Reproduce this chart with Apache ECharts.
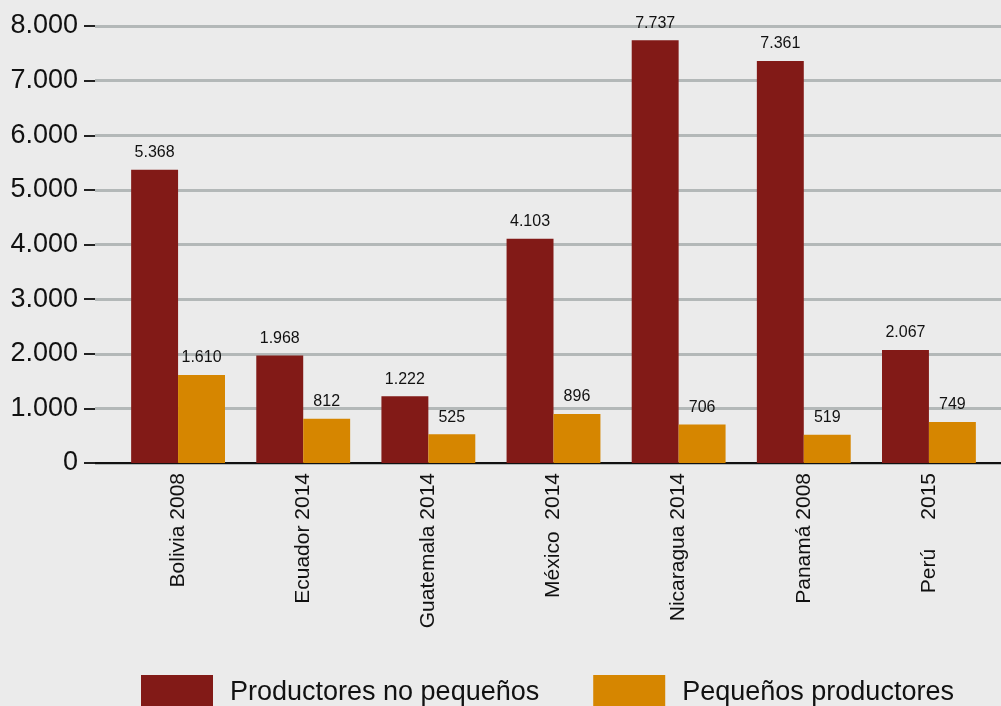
<!DOCTYPE html>
<html>
<head>
<meta charset="utf-8">
<script src="https://cdn.jsdelivr.net/npm/echarts@6/dist/echarts.min.js"></script>
<style>
  html, body { margin: 0; padding: 0; background: #ebebeb; }
  #chart { width: 1001px; height: 706px; }
</style>
</head>
<body>
<div id="chart"></div>
<script>
const categories = ['Bolivia 2008', 'Ecuador 2014', 'Guatemala 2014', 'México  2014', 'Nicaragua 2014', 'Panamá 2008', 'Perú     2015']
const noPequenos = [5368, 1968, 1222, 4103, 7737, 7361, 2067]
const pequenos = [1610, 812, 525, 896, 706, 519, 749]
const seriesNames = ['Productores no pequeños', 'Pequeños productores']
const yTicks = [0, 1000, 2000, 3000, 4000, 5000, 6000, 7000, 8000]

// miles con punto: 5368 -> 5.368
function fmt (v) {
  return String(v).replace(/\B(?=(\d{3})+(?!\d))/g, '.')
}

const FONT = 'Liberation Sans, Arial, sans-serif'
const yMin = yTicks[0]
const yMax = yTicks[yTicks.length - 1]
const yStep = yTicks[1] - yTicks[0]

const chart = echarts.init(document.getElementById('chart'))
chart.setOption({
  backgroundColor: '#ebebeb',
  animation: false,
  textStyle: { fontFamily: FONT },
  grid: [
    // rejilla de fondo con el eje y
    { left: 95, right: 0, top: 26, bottom: 243 },
    // barras
    { left: 115.5, right: 9.5, top: 26, bottom: 243 }
  ],
  legend: {
    data: seriesNames,
    top: 675,
    left: 141,
    padding: 0,
    itemWidth: 72,
    itemHeight: 36,
    itemGap: 54,
    icon: 'rect',
    textStyle: { fontSize: 27, color: '#111', fontFamily: FONT, padding: [0, 0, 0, 12] }
  },
  xAxis: [
    {
      type: 'category',
      gridIndex: 0,
      data: [''],
      axisLine: { show: true, lineStyle: { color: '#111', width: 2 } },
      axisTick: { show: false },
      axisLabel: { show: false }
    },
    {
      type: 'category',
      gridIndex: 1,
      data: categories,
      axisLine: { show: false },
      axisTick: { show: false },
      axisLabel: {
        rotate: 90,
        margin: 10,
        fontSize: 21,
        color: '#111',
        fontFamily: FONT
      }
    }
  ],
  yAxis: [
    {
      type: 'value',
      gridIndex: 0,
      min: yMin,
      max: yMax,
      interval: yStep,
      axisLine: { show: false },
      axisTick: { show: true, length: 11, lineStyle: { color: '#222', width: 2 } },
      axisLabel: {
        fontSize: 27,
        color: '#111',
        margin: 17,
        fontFamily: FONT,
        formatter: fmt
      },
      splitLine: { show: true, lineStyle: { color: '#b3b8b8', width: 3 } }
    },
    {
      type: 'value',
      gridIndex: 1,
      min: yMin,
      max: yMax,
      interval: yStep,
      show: false,
      splitLine: { show: false }
    }
  ],
  series: [
    {
      name: seriesNames[0],
      type: 'bar',
      xAxisIndex: 1,
      yAxisIndex: 1,
      color: '#821a17',
      barWidth: '37.5%',
      barGap: '0%',
      data: noPequenos,
      label: {
        show: true,
        position: 'top',
        distance: 9,
        fontSize: 16,
        color: '#111',
        fontFamily: FONT,
        formatter: p => fmt(p.value)
      }
    },
    {
      name: seriesNames[1],
      type: 'bar',
      xAxisIndex: 1,
      yAxisIndex: 1,
      color: '#d68600',
      barWidth: '37.5%',
      barGap: '0%',
      data: pequenos,
      label: {
        show: true,
        position: 'top',
        distance: 9,
        fontSize: 16,
        color: '#111',
        fontFamily: FONT,
        formatter: p => fmt(p.value)
      }
    }
  ]
})
</script>
</body>
</html>
